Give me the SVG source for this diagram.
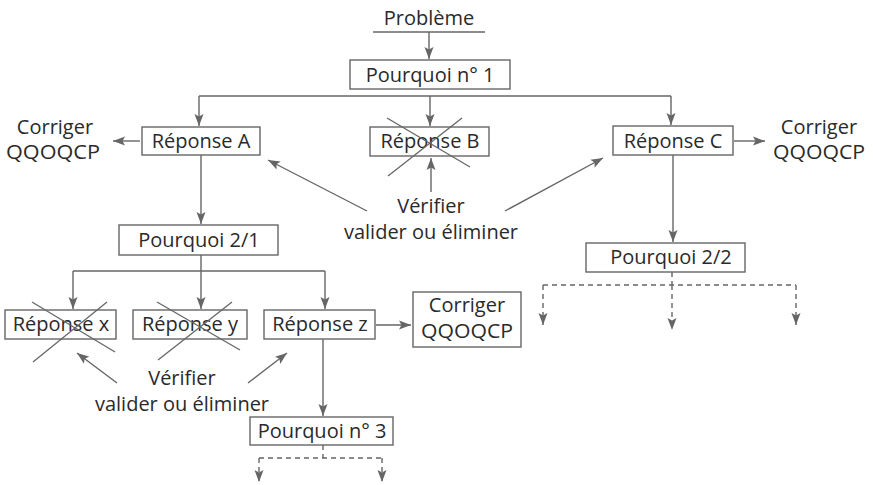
<svg xmlns="http://www.w3.org/2000/svg" width="873" height="485" viewBox="0 0 873 485">
<defs>
<marker id="ah" markerWidth="12" markerHeight="10" refX="12" refY="5" orient="auto" markerUnits="userSpaceOnUse">
<path d="M0,0.5 L12,5 L0,9.5 L2.5,5 z" fill="#666"/>
</marker>
<style>
text{font-family:"Open Sans","Liberation Sans",sans-serif;font-size:20px;fill:#2a2a2a;text-anchor:middle}
.box{fill:#fff;stroke:#666;stroke-width:1.4}
.ln{fill:none;stroke:#666;stroke-width:1.4}
.ar{fill:none;stroke:#666;stroke-width:1.4;marker-end:url(#ah)}
.da{fill:none;stroke:#666;stroke-width:1.4;stroke-dasharray:5,4}
.dar{fill:none;stroke:#666;stroke-width:1.4;stroke-dasharray:5,4;marker-end:url(#ah)}
.x{stroke:#666;stroke-width:1.3}
</style>
</defs>
<rect width="873" height="485" fill="#fff"/>
<g id="connectors">
<line class="ln" x1="373" y1="32" x2="485" y2="32"/>
<line class="ar" x1="429" y1="32" x2="429" y2="59"/>
<line class="ln" x1="199" y1="96" x2="671" y2="96"/>
<line class="ar" x1="199" y1="96" x2="199" y2="126"/>
<line class="ar" x1="430" y1="96" x2="430" y2="126"/>
<line class="ar" x1="671" y1="96" x2="671" y2="125"/>
<line class="ar" x1="140" y1="141" x2="113" y2="141"/>
<line class="ar" x1="734" y1="141" x2="765" y2="141"/>
<line class="ar" x1="367" y1="211" x2="268" y2="160"/>
<line class="ar" x1="431" y1="192" x2="431" y2="158"/>
<line class="ar" x1="505" y1="211" x2="603" y2="158"/>
<line class="ar" x1="201" y1="155" x2="201" y2="224"/>
<line class="ar" x1="673" y1="155" x2="673" y2="242"/>
<line class="da" x1="672" y1="272" x2="672" y2="285"/>
<line class="da" x1="543" y1="285" x2="796" y2="285"/>
<line class="dar" x1="543" y1="285" x2="543" y2="325"/>
<line class="dar" x1="672" y1="285" x2="672" y2="330"/>
<line class="dar" x1="796" y1="285" x2="796" y2="325"/>
<line class="ln" x1="201" y1="255" x2="201" y2="271"/>
<line class="ln" x1="73" y1="271" x2="325" y2="271"/>
<line class="ar" x1="73" y1="271" x2="73" y2="309"/>
<line class="ar" x1="201" y1="271" x2="201" y2="309"/>
<line class="ar" x1="325" y1="271" x2="325" y2="309"/>
<line class="ar" x1="376" y1="325" x2="411" y2="325"/>
<line class="ar" x1="117" y1="383" x2="77" y2="353"/>
<line class="ar" x1="248" y1="383" x2="287" y2="353"/>
<line class="ar" x1="323" y1="339" x2="323" y2="416"/>
<line class="da" x1="323" y1="445" x2="323" y2="458"/>
<line class="da" x1="259" y1="458" x2="382" y2="458"/>
<line class="dar" x1="259" y1="458" x2="259" y2="482"/>
<line class="dar" x1="382" y1="458" x2="382" y2="482"/>
</g>
<g id="probleme"><text x="429" y="25">Problème</text></g>
<g id="pourquoi1"><rect class="box" x="350" y="60" width="160" height="29"/><text x="430" y="82">Pourquoi n° 1</text></g>
<g id="reponseA"><rect class="box" x="142" y="127" width="118" height="28"/><text x="201" y="148">Réponse A</text></g>
<g id="reponseB"><rect class="box" x="370" y="127" width="119" height="29"/><text x="430" y="148">Réponse B</text>
<line class="x" x1="387" y1="118" x2="470" y2="167"/><line class="x" x1="462" y1="118" x2="388" y2="176"/></g>
<g id="reponseC"><rect class="box" x="613" y="126" width="120" height="29"/><text x="673" y="148">Réponse C</text></g>
<g id="corrigerL"><text x="55" y="134">Corriger</text><text x="53" y="159" textLength="94" lengthAdjust="spacingAndGlyphs">QQOQCP</text></g>
<g id="corrigerR"><text x="819" y="134">Corriger</text><text x="819" y="159" textLength="92" lengthAdjust="spacingAndGlyphs">QQOQCP</text></g>
<g id="verifier1"><text x="431" y="213">Vérifier</text><text x="431" y="239">valider ou éliminer</text></g>
<g id="pourquoi21"><rect class="box" x="119" y="225" width="159" height="30"/><text x="199" y="247">Pourquoi 2/1</text></g>
<g id="pourquoi22"><rect class="box" x="586" y="243" width="159" height="29"/><text x="671" y="264">Pourquoi 2/2</text></g>
<g id="reponseX"><rect class="box" x="5" y="310" width="111" height="29"/><text x="61" y="331">Réponse x</text>
<line class="x" x1="32" y1="302" x2="115" y2="352"/><line class="x" x1="107" y1="302" x2="33" y2="362"/></g>
<g id="reponseY"><rect class="box" x="133" y="310" width="114" height="29"/><text x="190" y="331">Réponse y</text>
<line class="x" x1="157" y1="302" x2="240" y2="350"/><line class="x" x1="232" y1="302" x2="158" y2="360"/></g>
<g id="reponseZ"><rect class="box" x="264" y="310" width="111" height="29"/><text x="320" y="331">Réponse z</text></g>
<g id="corrigerBox"><rect class="box" x="413" y="292" width="108" height="55"/><text x="467" y="312">Corriger</text><text x="467" y="338" textLength="92" lengthAdjust="spacingAndGlyphs">QQOQCP</text></g>
<g id="verifier2"><text x="182" y="385">Vérifier</text><text x="182" y="411">valider ou éliminer</text></g>
<g id="pourquoi3"><rect class="box" x="250" y="417" width="143" height="28"/><text x="322" y="438">Pourquoi n° 3</text></g>
</svg>
